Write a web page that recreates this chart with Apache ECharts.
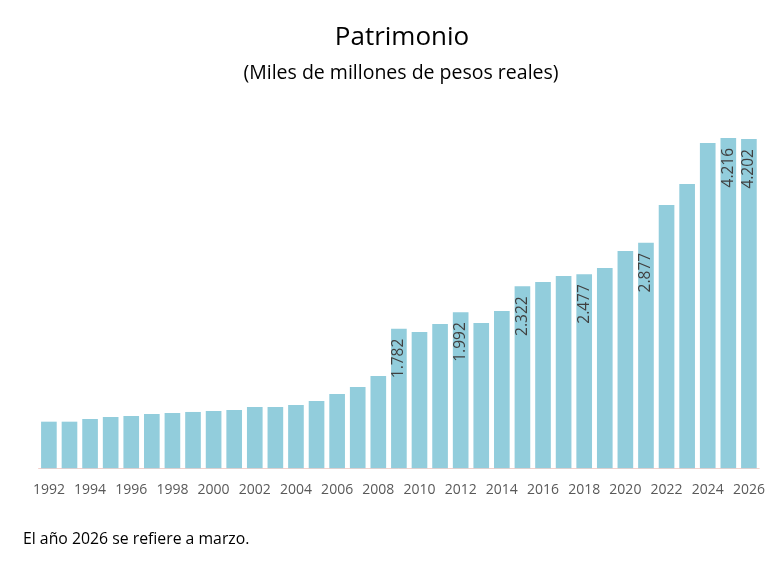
<!DOCTYPE html>
<html>
<head>
<meta charset="utf-8">
<script src="https://cdn.jsdelivr.net/npm/echarts@6/dist/echarts.min.js"></script>
<style>
  html, body { margin: 0; padding: 0; background: #fff; }
  #main { width: 773px; height: 571px; }
</style>
</head>
<body>
<div id="main"></div>
<script>
var years = [];
for (var y = 1992; y <= 2026; y++) years.push(String(y));

// miles de millones de pesos reales
var patrimonio = [
    595, 595, 629, 655, 668, 693, 706, 719, 731, 744,
    782, 782, 808, 859, 948, 1038, 1178, 1782, 1740, 1842,
    1992, 1855, 2008, 2322, 2378, 2454, 2477, 2556, 2773, 2877,
    3361, 3629, 4152, 4216, 4202
];

// years whose value is written on the bar
var labeledYears = ['2009', '2012', '2015', '2018', '2021', '2025', '2026'];

function fmt(v) {
    return String(v).replace(/\B(?=(\d{3})+(?!\d))/g, '.');
}

var data = [];
for (var i = 0; i < years.length; i++) {
    var item = { value: patrimonio[i] };
    if (labeledYears.indexOf(years[i]) >= 0) {
        item.label = { show: true };
    }
    data.push(item);
}

var chart = echarts.init(document.getElementById('main'));

chart.setOption({
    backgroundColor: '#ffffff',
    animation: false,
    title: [
        {
            text: 'Patrimonio',
            left: 397,
            textAlign: 'center',
            top: 20,
            textStyle: { fontFamily: 'Open Sans', fontSize: 26, fontWeight: 'normal', color: '#000' }
        },
        {
            text: '(Miles de millones de pesos reales)',
            left: 396,
            textAlign: 'center',
            top: 58,
            textStyle: { fontFamily: 'Open Sans', fontSize: 19.5, fontWeight: 'normal', color: '#000' }
        },
        {
            text: 'El año 2026 se refiere a marzo.',
            left: 18,
            top: 526,
            textStyle: { fontFamily: 'Open Sans', fontSize: 15.8, fontWeight: 'normal', color: '#000' }
        }
    ],
    grid: { left: 38.6, right: 13.8, top: 115.7, bottom: 102.7 },
    xAxis: {
        type: 'category',
        data: years,
        axisLine: { lineStyle: { color: '#f2d0cc', width: 1 } },
        axisTick: { show: false },
        axisLabel: {
            interval: 1,
            color: '#595959',
            fontFamily: 'Open Sans',
            fontSize: 14,
            margin: 15
        }
    },
    yAxis: {
        type: 'value',
        min: 0,
        max: 4500,
        show: false,
        splitLine: { show: false }
    },
    series: [{
        type: 'bar',
        data: data,
        barCategoryGap: '24%',
        itemStyle: { color: '#92cddc' },
        label: {
            show: false,
            position: 'insideTop',
            rotate: 90,
            align: 'right',
            verticalAlign: 'middle',
            distance: 10,
            color: '#404040',
            fontFamily: 'Open Sans',
            fontSize: 15.5,
            formatter: function (p) { return fmt(p.value); }
        }
    }]
});
</script>
</body>
</html>
